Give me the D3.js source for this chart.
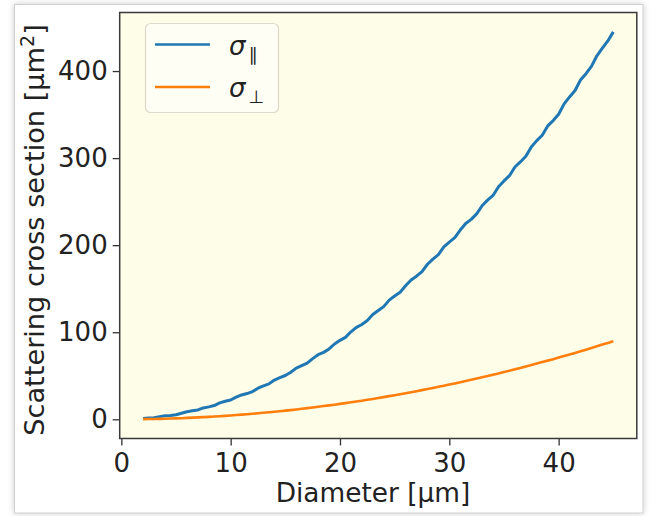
<!DOCTYPE html>
<html>
<head>
<meta charset="utf-8">
<script src="https://cdn.jsdelivr.net/npm/d3@7"></script>
<style>
  body { margin: 0; background: #fff; }
  svg { display: block; }
  text { font-family: "DejaVu Sans", sans-serif; fill: #222; }
  .tick line { stroke: #333; stroke-width: 1.3; }
  .tick text { font-size: 26px; fill: #222; }
</style>
</head>
<body>
<svg width="654" height="516"></svg>
<script>
// diameter in µm, 0.5 µm steps
const diameter = [
  2, 2.5, 3, 3.5, 4, 4.5, 5, 5.5, 6, 6.5, 7, 7.5, 8, 8.5, 9, 9.5,
  10, 10.5, 11, 11.5, 12, 12.5, 13, 13.5, 14, 14.5, 15, 15.5, 16, 16.5, 17, 17.5,
  18, 18.5, 19, 19.5, 20, 20.5, 21, 21.5, 22, 22.5, 23, 23.5, 24, 24.5, 25, 25.5,
  26, 26.5, 27, 27.5, 28, 28.5, 29, 29.5, 30, 30.5, 31, 31.5, 32, 32.5, 33, 33.5,
  34, 34.5, 35, 35.5, 36, 36.5, 37, 37.5, 38, 38.5, 39, 39.5, 40, 40.5, 41, 41.5,
  42, 42.5, 43, 43.5, 44, 44.5, 45
];
// sigma parallel (µm²), noisy
const sigmaPar = [
  0.9, 1.6, 1.9, 3.1, 4.0, 4.4, 5.3, 7.0, 8.7, 9.8, 10.8, 13.1, 14.3, 15.8, 18.9, 20.7,
  22.2, 25.4, 28.0, 29.6, 31.9, 35.7, 38.4, 40.7, 45.1, 47.8, 50.3, 54.1, 58.8, 61.7, 64.6, 69.7,
  74.2, 76.9, 80.8, 86.5, 90.7, 94.1, 100.5, 105.6, 108.9, 113.4, 120.3, 125.0, 129.4, 136.9, 141.7, 145.9,
  153.4, 160.0, 164.4, 169.7, 178.1, 183.9, 189.1, 198.1, 203.6, 208.7, 217.4, 224.9, 229.6, 235.9, 245.3, 251.7,
  257.1, 267.1, 273.8, 279.8, 289.8, 295.6, 302.1, 312.7, 320.1, 326.3, 337.0, 343.1, 350.3, 362.3, 370.3, 377.6,
  389.7, 397.0, 405.4, 417.5, 426.2, 434.6, 445.0
];
// sigma perpendicular (µm²)
const sigmaPerp = [
  0.2, 0.3, 0.4, 0.5, 0.7, 0.9, 1.1, 1.3, 1.6, 1.9, 2.2, 2.5, 2.8, 3.2, 3.6, 4.0,
  4.4, 4.9, 5.4, 5.9, 6.4, 6.9, 7.5, 8.1, 8.7, 9.3, 10.0, 10.6, 11.3, 12.1, 12.8, 13.6,
  14.4, 15.2, 16.0, 16.8, 17.7, 18.6, 19.5, 20.5, 21.4, 22.4, 23.4, 24.5, 25.5, 26.6, 27.7, 28.8,
  30.0, 31.1, 32.3, 33.5, 34.7, 36.0, 37.3, 38.6, 39.9, 41.2, 42.6, 44.0, 45.4, 46.8, 48.2, 49.7,
  51.2, 52.7, 54.3, 55.8, 57.4, 59.0, 60.7, 62.3, 64.0, 65.7, 67.4, 69.1, 70.9, 72.7, 74.5, 76.3,
  78.2, 80.0, 81.9, 83.8, 85.8, 87.7, 89.7
];
const xTicks = [0, 10, 20, 30, 40];
const yTicks = [0, 100, 200, 300, 400];

const svg = d3.select('svg');

const defs = svg.append('defs');
const f = defs.append('filter').attr('id', 'shadow')
  .attr('x', '-5%').attr('y', '-5%').attr('width', '110%').attr('height', '110%');
f.append('feDropShadow').attr('dx', 0).attr('dy', 0)
  .attr('stdDeviation', 3).attr('flood-color', '#000').attr('flood-opacity', 0.2);

// card
svg.append('rect')
  .attr('x', 14.5).attr('y', 4.5).attr('width', 628.5).attr('height', 508.5)
  .attr('fill', '#fff').attr('stroke', '#cfcfcf')
  .attr('filter', 'url(#shadow)');

const pLeft = 119.7, pRight = 636.8, pTop = 12.5, pBottom = 438.5;

// matplotlib style 5% margins
const pad = (ext) => {
  const r = ext[1] - ext[0];
  return [ext[0] - 0.05 * r, ext[1] + 0.05 * r];
};
const xScale = d3.scaleLinear()
  .domain(pad(d3.extent(diameter)))
  .range([pLeft, pRight]);
const yScale = d3.scaleLinear()
  .domain(pad([d3.min(sigmaPerp.concat(sigmaPar)), d3.max(sigmaPerp.concat(sigmaPar))]))
  .range([pBottom, pTop]);

svg.append('rect')
  .attr('x', pLeft).attr('y', pTop)
  .attr('width', pRight - pLeft).attr('height', pBottom - pTop)
  .attr('fill', '#fefde8');

const clip = defs.append('clipPath').attr('id', 'clip');
clip.append('rect').attr('x', pLeft).attr('y', pTop)
  .attr('width', pRight - pLeft).attr('height', pBottom - pTop);

const line = (vals) => d3.line()
  .x((d, i) => xScale(diameter[i]))
  .y((d) => yScale(d))(vals);

const plot = svg.append('g').attr('clip-path', 'url(#clip)');
plot.append('path')
  .attr('d', line(sigmaPar))
  .attr('fill', 'none').attr('stroke', '#1f77b4')
  .attr('stroke-width', 3).attr('stroke-linejoin', 'round');
plot.append('path')
  .attr('d', line(sigmaPerp))
  .attr('fill', 'none').attr('stroke', '#ff7f0e')
  .attr('stroke-width', 2.6).attr('stroke-linejoin', 'round');

// axes
const xAxis = svg.append('g')
  .attr('transform', `translate(0, ${pBottom})`)
  .call(d3.axisBottom(xScale).tickValues(xTicks).tickSize(7).tickPadding(8));
xAxis.select('.domain').remove();

const yAxis = svg.append('g')
  .attr('transform', `translate(${pLeft}, 0)`)
  .call(d3.axisLeft(yScale).tickValues(yTicks).tickSize(7).tickPadding(5));
yAxis.select('.domain').remove();

svg.selectAll('g[font-family]').attr('font-family', null).attr('font-size', null);

// frame
svg.append('rect')
  .attr('x', pLeft).attr('y', pTop)
  .attr('width', pRight - pLeft).attr('height', pBottom - pTop)
  .attr('fill', 'none').attr('stroke', '#3a3a3a').attr('stroke-width', 1.5);

// labels
svg.append('text')
  .attr('x', 373)
  .attr('y', 502)
  .attr('text-anchor', 'middle')
  .attr('font-size', 26.4)
  .text('Diameter [µm]');

const yl = svg.append('text')
  .attr('transform', `translate(44, 230) rotate(-90)`)
  .attr('text-anchor', 'middle')
  .attr('font-size', 27.2);
yl.append('tspan').text('Scattering cross section [µm');
yl.append('tspan').attr('font-size', 19).attr('dy', -10).text('2');
yl.append('tspan').attr('dy', 10).text(']');

// legend
const lg = svg.append('g');
lg.append('rect')
  .attr('x', 145.5).attr('y', 23.5).attr('width', 133).attr('height', 89).attr('rx', 5)
  .attr('fill', '#fefef4').attr('stroke', '#dcd8cc').attr('stroke-width', 1.2);
const items = [
  {sub: '∥', color: '#1f77b4', y: 44.5},
  {sub: '⊥', color: '#ff7f0e', y: 87}
];
items.forEach((it) => {
  lg.append('line')
    .attr('x1', 155).attr('x2', 210).attr('y1', it.y).attr('y2', it.y)
    .attr('stroke', it.color).attr('stroke-width', 2.6);
  const t = lg.append('text')
    .attr('x', 229).attr('y', it.y + 10)
    .attr('font-size', 26);
  t.append('tspan').attr('font-style', 'italic').text('σ');
  t.append('tspan').attr('font-size', 18).attr('dy', 6).attr('dx', 3).text(it.sub);
});
</script>
</body>
</html>
